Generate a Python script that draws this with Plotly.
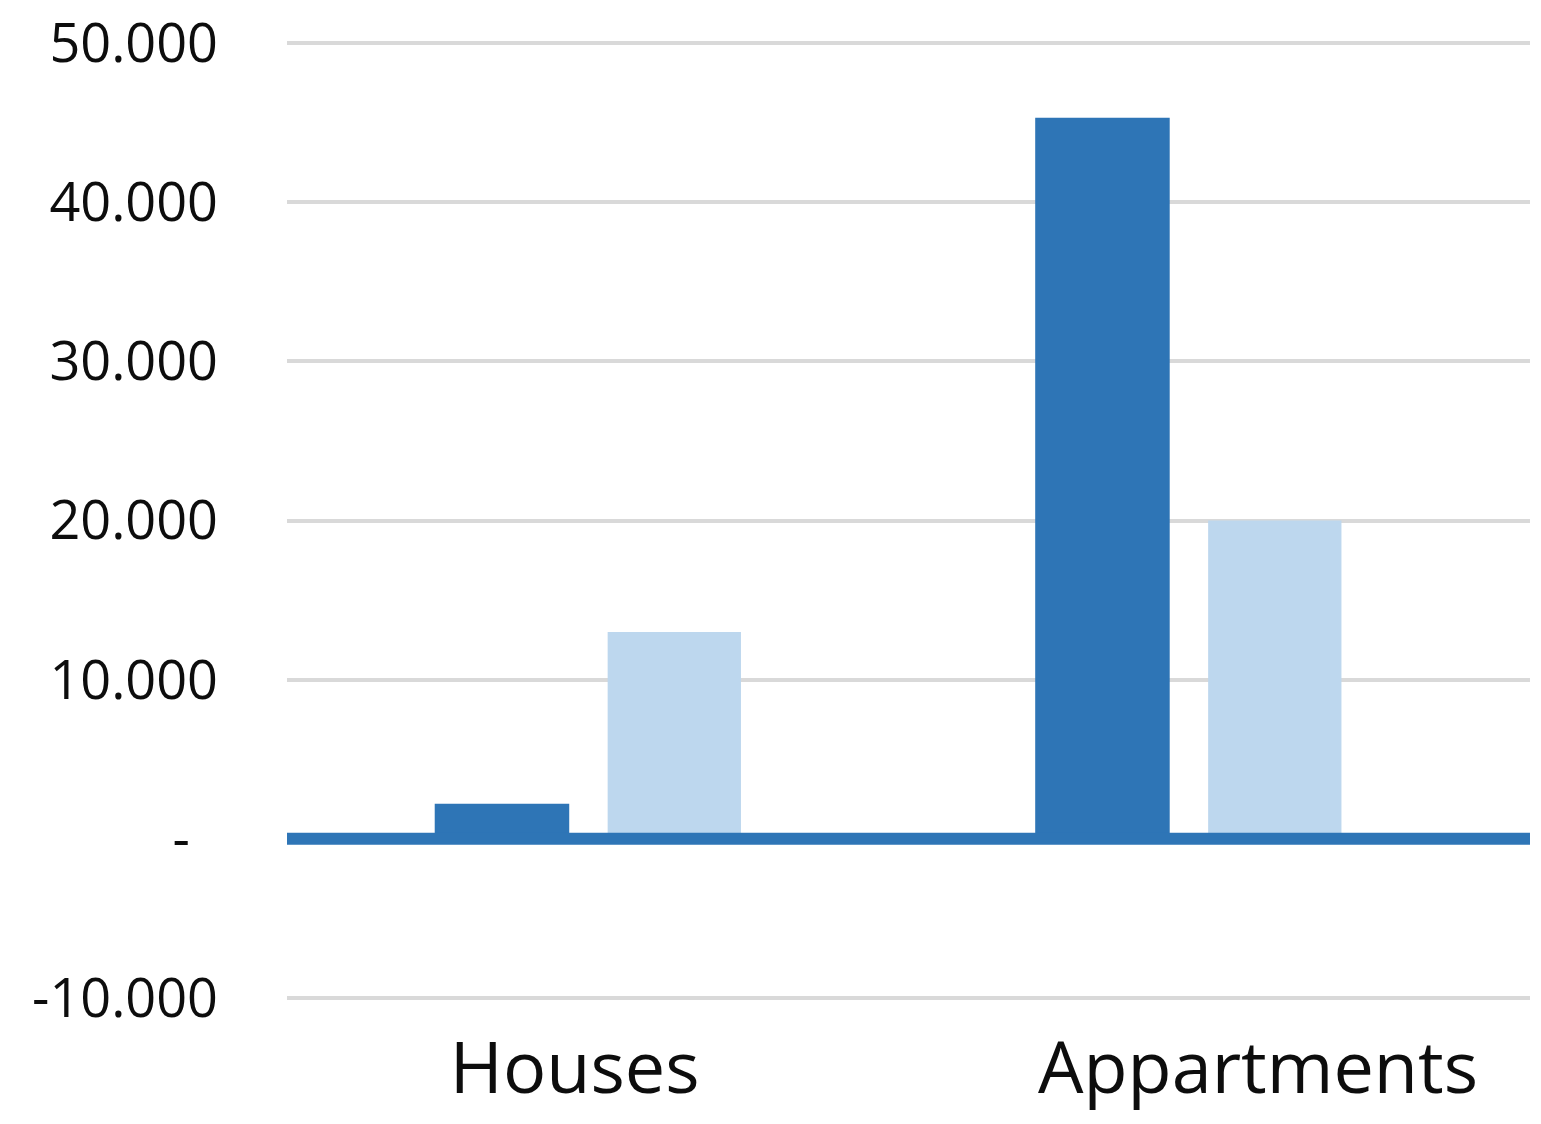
import plotly.graph_objects as go

categories = ["Houses", "Appartments"]
series_dark = [2200, 45300]
series_light = [13000, 20000]
y_tickvals = [-10000, 0, 10000, 20000, 30000, 40000, 50000]
y_ticktext = ["-10.000", "-\u00a0\u00a0", "10.000", "20.000", "30.000", "40.000", "50.000"]

DARK = "#2e75b6"
LIGHT = "#bdd7ee"

xpos = list(range(len(categories)))

fig = go.Figure()
fig.add_trace(go.Bar(x=xpos, y=series_dark, width=0.224, offset=-0.254,
                     marker=dict(color=DARK, line=dict(width=0)), showlegend=False))
fig.add_trace(go.Bar(x=xpos, y=series_light, width=0.222, offset=0.034,
                     marker=dict(color=LIGHT, line=dict(width=0)), showlegend=False))

fig.add_shape(type="line", xref="paper", x0=0, x1=1, yref="y", y0=0, y1=0,
              line=dict(color=DARK, width=12), layer="above")

fig.update_layout(
    width=1541, height=1124,
    margin=dict(l=287, r=11, t=35, b=118),
    plot_bgcolor="white", paper_bgcolor="white",
    font=dict(family="Open Sans", color="#0d0d0d"),
    barmode="group",
    xaxis=dict(range=[-0.5, 1.57], tickmode="array",
               tickvals=[-0.021, 1.117], ticktext=categories,
               showgrid=False, zeroline=False, showline=False, ticks="",
               automargin=False,
               tickfont=dict(size=72, color="#0d0d0d"), ticklabelstandoff=14),
    yaxis=dict(range=[-10500, 50500], tickmode="array",
               tickvals=y_tickvals, ticktext=y_ticktext,
               showgrid=True, gridcolor="#d9d9d9", gridwidth=4,
               zeroline=False, showline=False, ticks="",
               automargin=False,
               tickfont=dict(size=54, color="#0d0d0d"), ticklabelstandoff=68),
)

fig.write_html("out.html", config={"displayModeBar": False},
               post_script="document.body.style.margin='0';document.body.style.overflow='hidden';")
